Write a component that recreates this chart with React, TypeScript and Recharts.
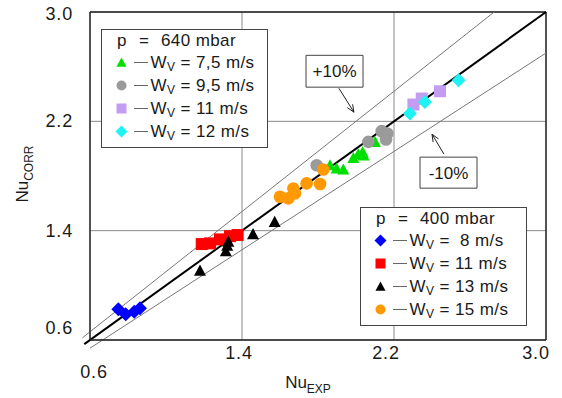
import React from 'react';
import {
  ScatterChart,
  Scatter,
  XAxis,
  YAxis,
  CartesianGrid,
  ReferenceLine,
  ReferenceArea,
  Label,
} from 'recharts';

const FONT = '"Liberation Sans", Arial, Helvetica, sans-serif';

// axis ticks (both axes)
const axisTicks = [0.6, 1.4, 2.2, 3.0];

// p = 640 mbar
const green75 = [
  { x: 1.863, y: 1.879 }, { x: 1.898, y: 1.855 }, { x: 1.933, y: 1.848 },
  { x: 1.986, y: 1.932 }, { x: 2.012, y: 1.96 }, { x: 2.035, y: 1.975 },
  { x: 2.04, y: 1.95 }, { x: 2.1, y: 2.05 },
];
const gray95 = [
  { x: 1.793, y: 1.879 }, { x: 2.065, y: 2.05 }, { x: 2.135, y: 2.128 },
  { x: 2.165, y: 2.111 }, { x: 2.158, y: 2.067 },
];
const purple11 = [
  { x: 2.302, y: 2.323 }, { x: 2.346, y: 2.367 }, { x: 2.442, y: 2.42 },
];
const cyan12 = [
  { x: 2.284, y: 2.257 }, { x: 2.363, y: 2.342 }, { x: 2.54, y: 2.5 },
];

// p = 400 mbar
const blue8 = [
  { x: 0.749, y: 0.825 }, { x: 0.788, y: 0.788 }, { x: 0.833, y: 0.807 }, { x: 0.863, y: 0.832 },
];
const red11 = [
  { x: 1.188, y: 1.302 }, { x: 1.232, y: 1.307 }, { x: 1.284, y: 1.336 },
  { x: 1.337, y: 1.36 }, { x: 1.377, y: 1.368 },
];
const black13 = [
  { x: 1.179, y: 1.108 }, { x: 1.315, y: 1.25 }, { x: 1.322, y: 1.29 },
  { x: 1.328, y: 1.32 }, { x: 1.458, y: 1.375 }, { x: 1.572, y: 1.465 },
];
const orange15 = [
  { x: 1.6, y: 1.648 }, { x: 1.644, y: 1.636 }, { x: 1.67, y: 1.709 }, { x: 1.679, y: 1.673 },
  { x: 1.74, y: 1.746 }, { x: 1.811, y: 1.741 }, { x: 1.828, y: 1.848 },
];

// legend labels
const pressures = ['640', '400'];
const speedsHigh = ['7,5', '9,5', '11', '12'];
const speedsLow = [' 8', '11', '13', '15'];

type Kind = 'triangle' | 'circle' | 'square' | 'diamond';

const series: { data: { x: number; y: number }[]; kind: Kind; color: string }[] = [
  { data: green75, kind: 'triangle', color: '#00e000' },
  { data: gray95, kind: 'circle', color: '#9a9a9a' },
  { data: purple11, kind: 'square', color: '#c49cf2' },
  { data: cyan12, kind: 'diamond', color: '#1ef2f2' },
  { data: blue8, kind: 'diamond', color: '#0000ff' },
  { data: red11, kind: 'square', color: '#ff0000' },
  { data: black13, kind: 'triangle', color: '#000000' },
  { data: orange15, kind: 'circle', color: '#ff9900' },
];

const Mark = ({ kind, cx, cy, color, s }: { kind: Kind; cx: number; cy: number; color: string; s: number }) => {
  if (kind === 'triangle')
    return <polygon points={`${cx},${cy - s} ${cx - s},${cy + s * 0.85} ${cx + s},${cy + s * 0.85}`} fill={color} />;
  if (kind === 'circle') return <circle cx={cx} cy={cy} r={s} fill={color} />;
  if (kind === 'square') return <rect x={cx - s} y={cy - s} width={s * 2} height={s * 2} fill={color} />;
  return <polygon points={`${cx},${cy - s} ${cx + s},${cy} ${cx},${cy + s} ${cx - s},${cy}`} fill={color} />;
};

const markSize: Record<Kind, number> = { triangle: 6, circle: 6.3, square: 6, diamond: 7 };

const XTick = (props: any) => {
  const v = Number(props.payload.value).toFixed(1);
  const shift: Record<string, [number, number]> = { '0.6': [4, 32], '1.4': [-3, 13], '2.2': [-8, 13], '3.0': [-10, 13] };
  const [dx, dy] = shift[v] || [0, 13];
  return (
    <text x={props.x + dx} y={props.y + dy} textAnchor="middle" dominantBaseline="central"
      fontFamily={FONT} fontSize={18} letterSpacing={0.8} fill="#1a1a1a">{v}</text>
  );
};

const YTick = (props: any) => {
  const v = Number(props.payload.value).toFixed(1);
  const shift: Record<string, number> = { '0.6': -12, '3.0': 2 };
  return (
    <text x={props.x - 17} y={props.y + (shift[v] || 0)} textAnchor="end" dominantBaseline="central"
      fontFamily={FONT} fontSize={18} letterSpacing={0.8} fill="#1a1a1a">{v}</text>
  );
};

const Arrow = (props: any) => {
  const { x1, y1, x2, y2 } = props;
  const a = Math.atan2(y2 - y1, x2 - x1);
  const h = 8;
  const p1 = [x2 - h * Math.cos(a - 0.4), y2 - h * Math.sin(a - 0.4)];
  const p2 = [x2 - h * Math.cos(a + 0.4), y2 - h * Math.sin(a + 0.4)];
  return (
    <g stroke="#222" strokeWidth={1} fill="none">
      <line x1={x1} y1={y1} x2={x2} y2={y2} />
      <polyline points={`${p1[0]},${p1[1]} ${x2},${y2} ${p2[0]},${p2[1]}`} />
    </g>
  );
};

const LegendBox = ({ left, top, pressure, speeds, kinds }: any) => (
  <div style={{
    position: 'absolute', left, top, width: 167, height: 119, boxSizing: 'border-box',
    border: '1px solid #444', background: '#fff', fontFamily: FONT, fontSize: 17,
    color: '#1a1a1a', letterSpacing: 0.4, whiteSpace: 'pre',
  }}>
    <div style={{ position: 'absolute', top: 0, height: 21, lineHeight: '21px', left: 15 }}>p</div>
    <div style={{ position: 'absolute', top: 0, height: 21, lineHeight: '21px', left: 37 }}>=</div>
    <div style={{ position: 'absolute', top: 0, height: 21, lineHeight: '21px', left: 59 }}>{pressure} mbar</div>
    {speeds.map((sp: string, i: number) => (
      <div key={i} style={{ position: 'absolute', top: 21 + i * 23, height: 23, left: 0, right: 0 }}>
        <svg width={46} height={23} style={{ position: 'absolute', left: 0, top: 0 }}>
          <Mark kind={kinds[i].kind} cx={19.5} cy={11.5} color={kinds[i].color} s={kinds[i].kind === 'diamond' ? 6 : 5} />
          <line x1={32} y1={11.5} x2={46} y2={11.5} stroke="#666" strokeWidth={1} />
        </svg>
        <div style={{ position: 'absolute', left: 48.5, top: 0, lineHeight: '23px' }}>
          W<span style={{ fontSize: 12, verticalAlign: '-3px' }}>V</span> = {sp} m/s
        </div>
      </div>
    ))}
  </div>
);

const YLabel = (props: any) => {
  const vb = props.viewBox;
  const cx = 27.5;
  const cy = vb.y + vb.height / 2 - 2;
  return (
    <text x={cx} y={cy} transform={`rotate(-90, ${cx}, ${cy})`} textAnchor="middle"
      fontFamily={FONT} fontSize={17} fill="#1a1a1a">
      Nu<tspan fontSize={12} dy={5}>CORR</tspan>
    </text>
  );
};

const XLabel = (props: any) => {
  const vb = props.viewBox;
  const cx = vb.x + vb.width / 2 - 10;
  const cy = vb.y + 48;
  return (
    <text x={cx} y={cy} textAnchor="middle" fontFamily={FONT} fontSize={17} fill="#1a1a1a">
      Nu<tspan fontSize={12} dy={5}>EXP</tspan>
    </text>
  );
};

export default function App() {
  return (
    <div style={{ position: 'relative', width: 562, height: 398, background: '#fff' }}>
      <style>{'body{margin:0;background:#fff}'}</style>
      <ScatterChart width={562} height={398} margin={{ top: 12, right: 16, bottom: 0, left: 0 }}>
        <CartesianGrid stroke="#8a8a8a" strokeWidth={1} />
        <XAxis type="number" dataKey="x" domain={[0.6, 3.0]} ticks={axisTicks} height={58}
          axisLine={{ stroke: '#222', strokeWidth: 1.4 }} tickLine={false} tickSize={0} tickMargin={0}
          tick={<XTick />} interval={0} label={<Label content={<XLabel />} />} />
        <YAxis type="number" dataKey="y" domain={[0.6, 3.0]} ticks={axisTicks} width={90}
          axisLine={{ stroke: '#222', strokeWidth: 1.4 }} tickLine={false} tickSize={0} tickMargin={0}
          tick={<YTick />} interval={0} label={<Label content={<YLabel />} />} />
        <ReferenceLine y={3.0} stroke="#222" strokeWidth={1.4} />
        <ReferenceLine x={3.0} stroke="#222" strokeWidth={1.4} />
        <ReferenceLine segment={[{ x: 0.56, y: 0.616 }, { x: 3.0 / 1.1, y: 3.0 }]} stroke="#777" strokeWidth={1} ifOverflow="visible" />
        <ReferenceLine segment={[{ x: 0.6, y: 0.54 }, { x: 3.0, y: 2.7 }]} stroke="#777" strokeWidth={1} ifOverflow="visible" />
        <ReferenceLine segment={[{ x: 0.57, y: 0.57 }, { x: 3.0, y: 3.0 }]} stroke="#000" strokeWidth={2} ifOverflow="visible" />
        <ReferenceArea x1={1.737} x2={2.037} y1={2.45} y2={2.683} fill="#fff" fillOpacity={1} stroke="#444" strokeWidth={1}
          label={{ value: '+10%', position: 'center', fontFamily: FONT, fontSize: 17, fill: '#1a1a1a' }} />
        <ReferenceArea x1={2.337} x2={2.637} y1={1.711} y2={1.938} fill="#fff" fillOpacity={1} stroke="#444" strokeWidth={1}
          label={{ value: '-10%', position: 'center', fontFamily: FONT, fontSize: 17, fill: '#1a1a1a' }} />
        <ReferenceLine segment={[{ x: 1.91, y: 2.442 }, { x: 1.989, y: 2.267 }]} shape={<Arrow />} ifOverflow="visible" />
        <ReferenceLine segment={[{ x: 2.463, y: 1.96 }, { x: 2.4, y: 2.106 }]} shape={<Arrow />} ifOverflow="visible" />
        {series.map((s, i) => (
          <Scatter key={i} data={s.data} isAnimationActive={false}
            shape={(p: any) => <Mark kind={s.kind} cx={p.cx} cy={p.cy} color={s.color} s={markSize[s.kind]} />} />
        ))}
      </ScatterChart>
      <LegendBox left={101} top={29} pressure={pressures[0]} speeds={speedsHigh} kinds={series.slice(0, 4)} />
      <LegendBox left={360} top={207} pressure={pressures[1]} speeds={speedsLow} kinds={series.slice(4, 8)} />
    </div>
  );
}
